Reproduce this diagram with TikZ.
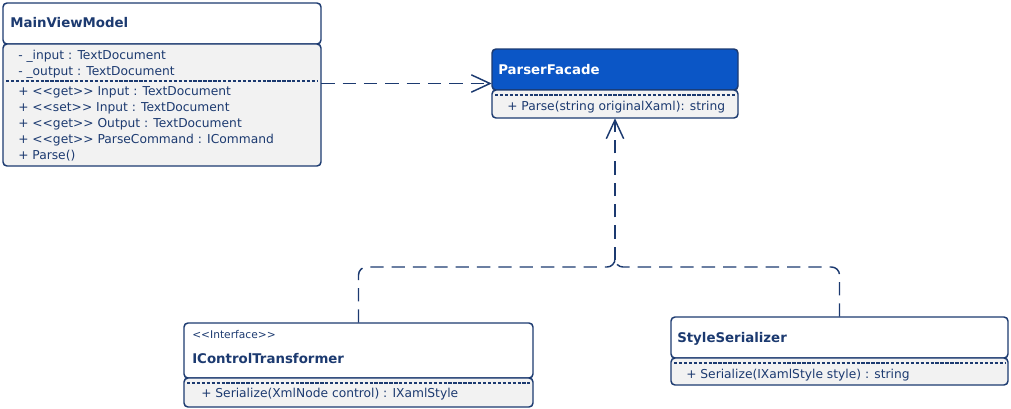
\documentclass[tikz,border=0pt]{standalone}
\usepackage{fontspec}
\setmainfont{DejaVu Sans}
\usetikzlibrary{arrows.meta,fit}

\definecolor{umlnavy}{RGB}{28,58,112}
\definecolor{umlblue}{RGB}{11,86,198}
\definecolor{umlgray}{RGB}{242,242,242}

\tikzset{
  hdr/.style={draw=umlnavy, line width=1.1pt, fill=white, rounded corners=3pt},
  hdrblue/.style={hdr, fill=umlblue},
  bdy/.style={draw=umlnavy, line width=1.1pt, fill=umlgray, rounded corners=3pt},
  sep/.style={umlnavy, line width=0.8pt, dash pattern=on 2.5pt off 1.2pt},
  cname/.style={anchor=base west, inner sep=0pt, text=umlnavy, font=\fontsize{10}{12}\selectfont\bfseries},
  member/.style={anchor=base west, inner sep=0pt, text=umlnavy, font=\fontsize{9.2}{11}\selectfont},
  stereo/.style={member, font=\fontsize{8}{10}\selectfont},
  dep/.style={umlnavy, line width=1.1pt, dash pattern=on 10pt off 6pt, rounded corners=6pt},
  opentip/.style={-{Straight Barb[length=14pt,width=13pt]}},
}

\begin{document}
\begin{tikzpicture}[x=0.75pt,y=-0.75pt]
\useasboundingbox (0,0) rectangle (1011,408);

% MainViewModel
\draw[hdr] (3,3) rectangle (321,44);
\draw[bdy] (3,44) rectangle (321,166);
\draw[sep] (6,81) -- (318,81);
\node[fit={(3,3) (321,166)}, inner sep=0pt] (mvm) {};
\node[cname] (mvmname) at (10,27) {MainViewModel};
\node[member] (mvmin) at (18,59) {- \_input : TextDocument};
\node[member] (mvmout) at (18,75) {- \_output : TextDocument};
\node[member] (mvmgetin) at (18,95) {+ <{}<get>{}> Input : TextDocument};
\node[member] (mvmsetin) at (18,111) {+ <{}<set>{}> Input : TextDocument};
\node[member] (mvmgetout) at (18,127) {+ <{}<get>{}> Output : TextDocument};
\node[member] (mvmcmd) at (18,143) {+ <{}<get>{}> ParseCommand : ICommand};
\node[member] (mvmparse) at (18,159) {+ Parse()};

% ParserFacade
\draw[hdrblue] (492,49) rectangle (738,90);
\draw[bdy] (492,90) rectangle (738,118);
\draw[sep] (495,95) -- (735,95);
\node[fit={(492,49) (738,118)}, inner sep=0pt] (pf) {};
\node[cname, text=white] (pfname) at (498,74) {ParserFacade};
\node[member] (pfparse) at (507,110) {+ Parse(string originalXaml): string};

% IControlTransformer
\draw[hdr] (184,323) rectangle (533,378);
\draw[bdy] (184,378) rectangle (533,407);
\draw[sep] (187,383) -- (530,383);
\node[fit={(184,323) (533,407)}, inner sep=0pt] (ict) {};
\node[stereo] (ictstereo) at (192,338) {<{}<Interface>{}>};
\node[cname] (ictname) at (192,363) {IControlTransformer};
\node[member] (ictser) at (201,397) {+ Serialize(XmlNode control) : IXamlStyle};

% StyleSerializer
\draw[hdr] (671,317) rectangle (1008,358);
\draw[bdy] (671,358) rectangle (1008,385);
\draw[sep] (674,363) -- (1005,363);
\node[fit={(671,317) (1008,385)}, inner sep=0pt] (ss) {};
\node[cname] (ssname) at (677,342) {StyleSerializer};
\node[member] (ssser) at (686,378) {+ Serialize(IXamlStyle style) : string};

% dependencies
\draw[dep, opentip] (mvm.east |- pf.west) -- (pf.west);

\coordinate (join) at (615,267);
\coordinate (knee) at (615,260);
\draw[dep] (ict.north) |- (join) -- (knee);
\draw[dep] (ss.north) |- (join) -- (knee);
\draw[dep, opentip] (knee) -- (pf.south);
\end{tikzpicture}
\end{document}
